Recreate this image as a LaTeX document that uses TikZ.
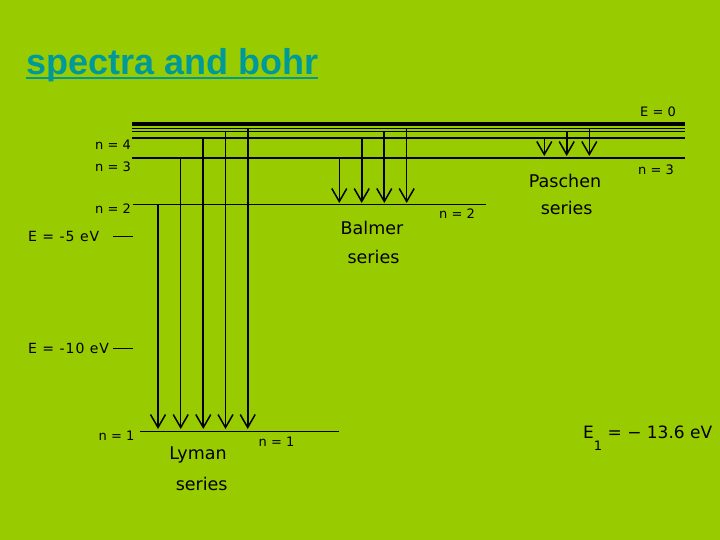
\documentclass[tikz,border=0pt]{standalone}
\usepackage{fontspec}
\setmainfont{DejaVu Sans}
\newfontfamily\titlefont{Liberation Sans}
\newfontfamily\spacedfont[LetterSpace=7]{DejaVu Sans}
\usetikzlibrary{arrows.meta}
\definecolor{bg}{RGB}{153,204,0}
\definecolor{ttl}{RGB}{0,153,153}
\tikzset{
  lvl/.style={line width=1.8pt},
  thinlvl/.style={line width=1pt},
  toplvl/.style={line width=3.5pt},
  arr/.style={-{Straight Barb[length=13pt,width=15pt,line width=1.5pt]}},
  lbl/.style={font=\fontsize{13}{15}\selectfont, inner sep=0pt},
  elbl/.style={font=\spacedfont\fontsize{14}{16}\selectfont, inner sep=0pt},
  big/.style={font=\fontsize{17.5}{20}\selectfont, inner sep=0pt},
}
\begin{document}
\begin{tikzpicture}[x=1pt,y=-1pt]
\fill[bg] (0,0) rectangle (720,540);
% title
\node[anchor=base west, inner sep=0pt, text=ttl, font=\titlefont\bfseries\fontsize{36}{40}\selectfont] (title) at (26,75) {spectra and bohr};
\draw[ttl, line width=2.7pt] ([yshift=-3pt]title.base west) -- ([yshift=-3pt]title.base east);
% levels
\coordinate (e0a) at (132,124);   \coordinate (e0b) at (685,124);
\coordinate (l6a) at (132,129);   \coordinate (l6b) at (685,129);
\coordinate (l5a) at (132,132);   \coordinate (l5b) at (685,132);
\coordinate (n4a) at (132,138);   \coordinate (n4b) at (685,138);
\coordinate (n3a) at (132,158);   \coordinate (n3b) at (685,158);
\coordinate (n2a) at (133,204.5); \coordinate (n2b) at (486,204.5);
\coordinate (n1a) at (140,431.5); \coordinate (n1b) at (339,431.5);
\draw[toplvl] (e0a) -- (e0b);
\draw[thinlvl] (l6a) -- (l6b);
\draw[thinlvl] (l5a) -- (l5b);
\draw[lvl] (n4a) -- (n4b);
\draw[lvl] (n3a) -- (n3b);
\draw[thinlvl] (n2a) -- (n2b);
\draw[lvl] (n1a) -- (n1b);
% energy ticks
\coordinate (t5a) at (113,236); \coordinate (t5b) at (133,236);
\coordinate (t10a) at (113,348); \coordinate (t10b) at (133,348);
\draw[thinlvl] (t5a) -- (t5b);
\draw[thinlvl] (t10a) -- (t10b);
% Lyman series
\foreach \x/\y/\w [count=\i] in {158/204.5/1.8, 180.7/158/1, 203.3/138/1.8, 225.5/132/1, 247.7/129/1.8}{
  \coordinate (ly\i s) at (\x,\y);
  \coordinate (ly\i e) at (\x,429);
  \draw[arr, line width=\w pt] (ly\i s) -- (ly\i e);
}
% Balmer series
\foreach \x/\y/\w [count=\i] in {339.3/158/1, 361.7/138/1.8, 384.3/132/1.8, 406.7/129/1}{
  \coordinate (ba\i s) at (\x,\y);
  \coordinate (ba\i e) at (\x,203);
  \draw[arr, line width=\w pt] (ba\i s) -- (ba\i e);
}
% Paschen series
\foreach \x/\y/\w [count=\i] in {544.3/138/1, 566.7/132/1.8, 589.3/129/1}{
  \coordinate (pa\i s) at (\x,\y);
  \coordinate (pa\i e) at (\x,156);
  \draw[arr, line width=\w pt] (pa\i s) -- (pa\i e);
}
% labels
\node[lbl] (le0) at (658,111.5) {E = 0};
\node[lbl] (ln4) at (113,144.5) {n = 4};
\node[lbl] (ln3) at (113,167) {n = 3};
\node[lbl] (ln2) at (113,208.5) {n = 2};
\node[elbl, anchor=west] (lem5) at (28,236.7) {E = -5 eV};
\node[elbl, anchor=west] (lem10) at (28,348.5) {E = -10 eV};
\node[lbl] (ln1l) at (116.5,435.5) {n = 1};
\node[lbl] (ln1r) at (276.5,441.5) {n = 1};
\node[big] (lyman) at (198,455) {Lyman};
\node[big] (lyser) at (201.7,483.5) {series};
\node[big] (balmer) at (372,228) {Balmer};
\node[big] (baser) at (373.5,256.5) {series};
\node[lbl] (ln2r) at (457,214) {n = 2};
\node[big] (paschen) at (565,180.5) {Paschen};
\node[big] (paser) at (566.7,208.3) {series};
\node[lbl] (ln3r) at (656,170) {n = 3};
\node[anchor=base west, inner sep=0pt, font=\fontsize{17}{20}\selectfont] (e1) at (583,438) {E\raisebox{-12pt}{\fontsize{13}{13}\selectfont 1} = − 13.6 eV};
\end{tikzpicture}
\end{document}
